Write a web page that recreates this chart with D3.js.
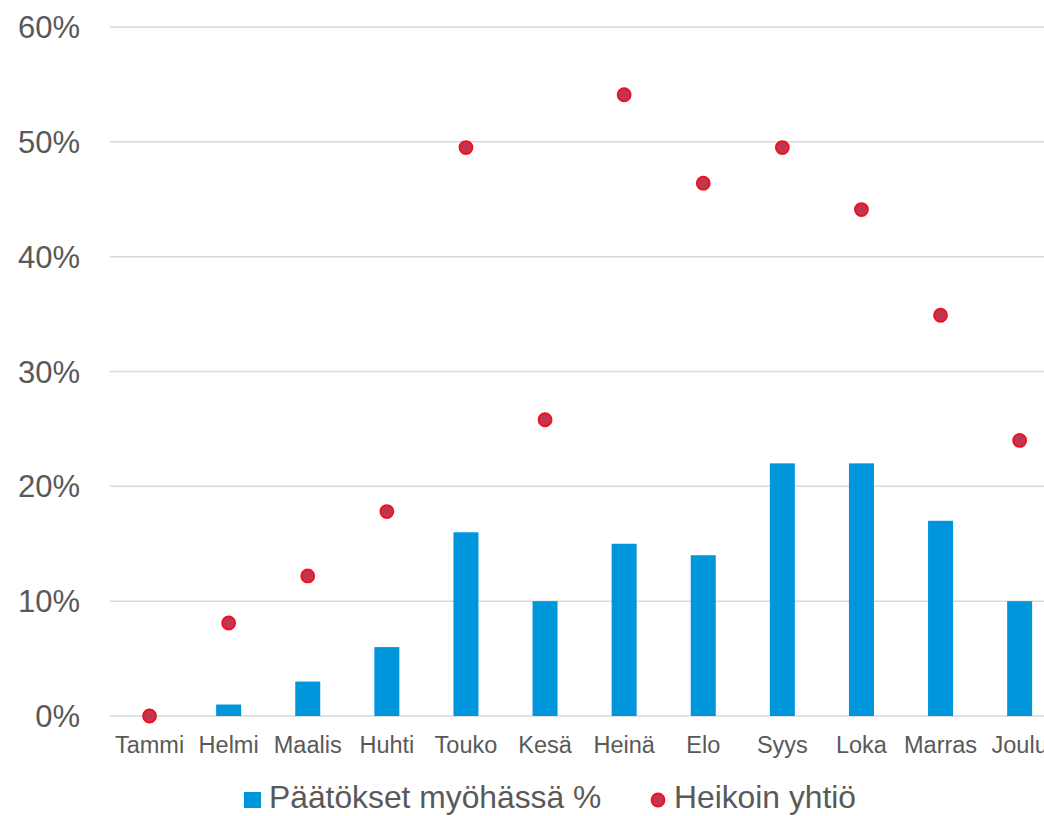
<!DOCTYPE html>
<html>
<head>
<meta charset="utf-8">
<script src="https://cdn.jsdelivr.net/npm/d3@7"></script>
<style>
  html, body { margin: 0; padding: 0; background: #ffffff; }
  svg { display: block; }
  text { font-family: "Liberation Sans", Arial, sans-serif; fill: #595959; }
</style>
</head>
<body>
<svg id="chart" width="1044" height="816"></svg>
<script>
// Months (Finnish short names)
const months = ["Tammi", "Helmi", "Maalis", "Huhti", "Touko", "Kesä", "Heinä", "Elo", "Syys", "Loka", "Marras", "Joulu"];
// Share of decisions late, per month (%)
const lateDecisions = [0, 1, 3, 6, 16, 10, 15, 14, 22, 22, 17, 10];
// Weakest company, per month (%)
const weakestCompany = [0, 8.1, 12.2, 17.8, 49.5, 25.8, 54.1, 46.4, 49.5, 44.1, 34.9, 24.0];
// Y axis ticks (%)
const yTicks = [0, 10, 20, 30, 40, 50, 60];

const seriesNames = ["Päätökset myöhässä %", "Heikoin yhtiö"];

const barColor = "#0096DB";
const dotFill = "#C2344F";
const dotStroke = "#F2101C";

const svg = d3.select("#chart");

// The plot runs a little past the right edge of the canvas
const plotLeft = 110, step = 79.1;
const plotRight = plotLeft + months.length * step;

const x = d3.scaleBand()
  .domain(months)
  .range([plotLeft, plotRight])
  .paddingInner(0.684)
  .paddingOuter(0.342);

const y = d3.scaleLinear()
  .domain([0, 60])
  .range([716, 27]);

// Horizontal gridlines
svg.append("g")
  .selectAll("line")
  .data(yTicks)
  .join("line")
  .attr("x1", plotLeft)
  .attr("x2", plotRight)
  .attr("y1", d => y(d))
  .attr("y2", d => y(d))
  .attr("stroke", "#d9d9d9")
  .attr("stroke-width", 1.5);

// Y axis labels
svg.append("g")
  .selectAll("text")
  .data(yTicks)
  .join("text")
  .attr("x", 80)
  .attr("y", d => y(d))
  .attr("dy", "0.36em")
  .attr("text-anchor", "end")
  .style("font-size", "31px")
  .text(d => d + "%");

// Bars
svg.append("g")
  .selectAll("rect")
  .data(months.map((m, i) => ({ m, v: lateDecisions[i] })))
  .join("rect")
  .attr("x", d => x(d.m))
  .attr("width", x.bandwidth())
  .attr("y", d => y(d.v))
  .attr("height", d => y(0) - y(d.v))
  .attr("fill", barColor);

// Dots
svg.append("g")
  .selectAll("circle")
  .data(months.map((m, i) => ({ m, v: weakestCompany[i] })))
  .join("circle")
  .attr("cx", d => x(d.m) + x.bandwidth() / 2)
  .attr("cy", d => y(d.v))
  .attr("r", 6.5)
  .attr("fill", dotFill)
  .attr("stroke", dotStroke)
  .attr("stroke-width", 1.8);

// X axis labels
svg.append("g")
  .selectAll("text")
  .data(months)
  .join("text")
  .attr("x", d => x(d) + x.bandwidth() / 2)
  .attr("y", 753)
  .attr("text-anchor", "middle")
  .style("font-size", "23.5px")
  .text(d => d);

// Legend
const legend = svg.append("g");
legend.append("rect")
  .attr("x", 244).attr("y", 792)
  .attr("width", 17).attr("height", 16)
  .attr("fill", barColor);
legend.append("text")
  .attr("x", 269).attr("y", 808)
  .style("font-size", "31.8px")
  .text(seriesNames[0]);
legend.append("circle")
  .attr("cx", 658).attr("cy", 800)
  .attr("r", 6.5)
  .attr("fill", dotFill)
  .attr("stroke", dotStroke)
  .attr("stroke-width", 1.8);
legend.append("text")
  .attr("x", 674).attr("y", 808)
  .style("font-size", "31.8px")
  .text(seriesNames[1]);
</script>
</body>
</html>
